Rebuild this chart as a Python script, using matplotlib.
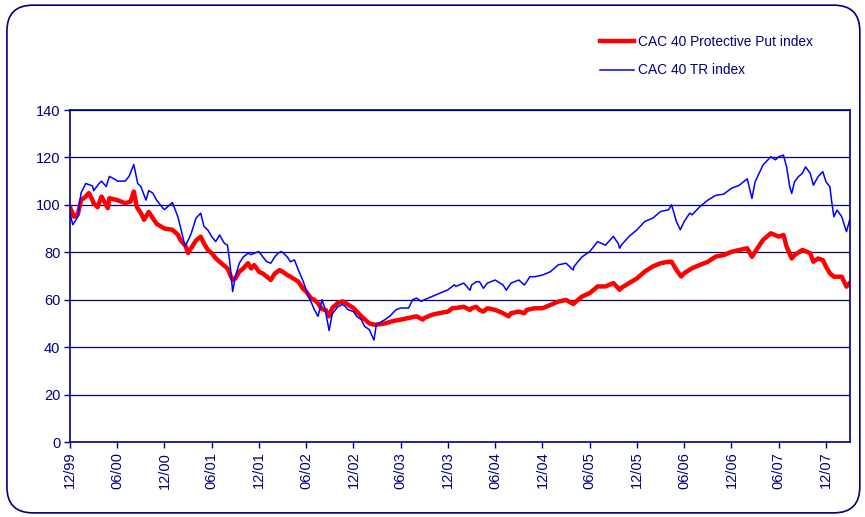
import matplotlib
matplotlib.use("Agg")
import matplotlib.pyplot as plt
from matplotlib.patches import FancyBboxPatch

plt.rcParams['font.family'] = ['Liberation Sans', 'DejaVu Sans']

navy = '#000080'

# months since 12/99
tr_months = [0, 0.35, 1, 1.4, 2, 2.85, 3, 3.7, 4, 4.6, 5, 5.85, 6, 7, 7.5, 8.1, 8.6, 9, 9.65, 10,
             10.5, 11, 11.8, 12, 13, 13.7, 14, 14.6, 15, 15.4, 16, 16.6, 17, 17.5, 18, 18.5, 19,
             19.6, 20, 20.25, 20.45, 20.65, 21, 21.5, 22, 22.6, 23, 23.4, 24, 24.5, 25, 25.5, 26,
             26.4, 26.8, 27, 27.6, 28, 28.5, 29, 29.55, 30, 30.5, 31, 31.5, 32, 32.4, 32.9, 33.3,
             34, 34.6, 35, 35.3, 36, 36.4, 37, 37.4, 38, 38.6, 38.9, 40, 40.6, 41, 41.4, 42, 43,
             43.5, 44, 44.6, 45, 46, 47, 48, 48.8, 49, 50, 50.8, 51, 51.6, 52, 52.5, 53, 54, 55,
             55.4, 56, 57, 57.7, 58, 58.4, 59, 60, 61, 62, 63, 63.9, 64, 65, 66, 67, 68, 69, 69.6,
             69.8, 70, 71, 72, 73, 74, 75, 76, 76.4, 77, 77.5, 78, 78.7, 79, 80, 81, 82, 83, 84,
             85, 86, 86.6, 87, 88, 89, 89.6, 90, 90.6, 91, 91.4, 91.65, 92, 92.5, 93, 93.4, 94,
             94.4, 95, 95.6, 96, 96.5, 96.7, 97, 97.4, 98, 98.6, 99]
tr_index = [96.5, 91.6, 95, 105, 109, 108, 106, 109, 110, 107.7, 112, 110.5, 110, 110, 112, 117,
            109, 107.7, 102, 106, 105, 102, 98.6, 98, 101, 95, 91, 82.5, 85, 88, 94.4, 96.5, 91,
            89.4, 86.6, 84.5, 87.3, 83.8, 83, 76.8, 71, 63.4, 69.7, 75.4, 78, 79.6, 79, 79.6,
            80.3, 78, 76, 75.4, 78, 79.6, 80.3, 80, 78, 76, 76.8, 72.5, 68.3, 64, 60, 56, 53, 60,
            56, 47, 54, 57, 58, 57, 55.8, 55, 53, 51.6, 48.8, 47.4, 43, 49.5, 51.6, 53, 54.4,
            55.8, 56.5, 56.5, 60, 60.7, 59.3, 60, 61.4, 62.8, 64.2, 66.3, 65.6, 67, 64, 66.2,
            67.6, 67.6, 64.8, 67, 68.3, 66.2, 64, 67, 68.3, 66.2, 67.6, 69.7, 69.7, 70.4, 71.8,
            74.7, 75.4, 72.5, 74, 78, 80.3, 84.5, 83, 86.7, 83.8, 81.7, 83, 86.7, 89.5, 93, 94.4,
            97.2, 97.9, 100, 93, 89.5, 93, 96.5, 95.8, 99.3, 102, 104, 104.5, 107, 108.3, 111,
            102.7, 109.7, 116.8, 120.3, 119, 120.3, 121, 116, 107.6, 104.8, 109.7, 111.9, 113.3,
            116, 113.3, 108.3, 111.9, 114, 109.7, 107.6, 102, 95, 97.8, 95, 88.7, 93.6]

pp_months = [0, 0.5, 1, 1.4, 2, 2.4, 2.85, 3, 3.5, 4, 4.8, 5, 6, 7, 7.7, 8.1, 8.5, 9, 9.4, 10,
             11, 12, 13, 13.7, 14, 14.7, 15, 16, 16.6, 17, 17.5, 18, 18.5, 19, 20, 20.45, 20.65,
             21, 21.5, 22, 22.6, 23, 23.4, 24, 24.5, 25, 25.5, 26, 26.6, 27, 27.6, 28, 29, 29.55,
             30, 30.6, 31, 31.5, 32, 32.5, 32.9, 33.3, 34, 34.6, 35, 36, 37, 38, 38.6, 39, 40, 41,
             42, 43, 44, 44.8, 45, 46, 47, 48, 48.6, 49, 50, 50.8, 51, 51.6, 52, 52.5, 53, 54, 55,
             55.7, 56, 57, 57.7, 58, 59, 60, 61, 62, 63, 63.9, 64, 65, 66, 67, 68, 69, 69.8, 70,
             71, 72, 73, 74, 75, 76, 76.4, 77, 77.6, 78, 79, 80, 81, 82, 83, 84, 85, 86, 86.6, 87,
             88, 89, 90, 90.6, 91, 91.65, 92, 93, 94, 94.4, 95, 95.6, 96, 96.5, 97, 98, 98.6, 99]
pp_index = [99, 95, 96, 102, 103.5, 105, 102, 100.7, 99, 103.5, 98.6, 102.8, 102, 100.7, 101.4,
            105.6, 99, 96.5, 93.7, 97, 92, 90, 89.5, 87.4, 85.3, 82.5, 79.7, 85, 86.6, 83.8, 81,
            79.6, 77.5, 76, 73.2, 69.7, 68.3, 69, 71.8, 73.2, 75.4, 73.2, 74.6, 71.8, 71, 69.7,
            68.3, 71, 72.5, 71.8, 70.4, 69.7, 67.6, 64.8, 63.4, 60.6, 60, 58.5, 56, 55.6, 53,
            56.5, 58.6, 59.3, 58.6, 56.5, 53, 50, 49.5, 49.5, 50, 51, 51.6, 52.3, 53, 51.6, 52.3,
            53.7, 54.4, 55, 56.5, 56.5, 57, 55.7, 56.4, 57, 55.7, 55, 56.4, 55.7, 54.3, 53, 54.3,
            55, 54.3, 55.7, 56.4, 56.4, 57.8, 59.2, 59.9, 58.2, 58.5, 61.3, 62.8, 65.6, 65.6, 67,
            64.2, 65, 67, 69, 71.9, 74, 75.4, 76, 76, 72.6, 69.8, 71.2, 73.3, 74.7, 76, 78.2,
            78.8, 80.2, 81, 81.7, 78.1, 80.2, 85.2, 88, 86.6, 87.3, 82.4, 77.4, 78.8, 81, 79.6,
            76, 77.4, 76.7, 74, 71.1, 69.7, 69.7, 65.5, 67]

tick_months = list(range(0, 97, 6))
tick_labels = ['12/99', '06/00', '12/00', '06/01', '12/01', '06/02', '12/02', '06/03', '12/03',
               '06/04', '12/04', '06/05', '12/05', '06/06', '12/06', '06/07', '12/07']

fig = plt.figure(figsize=(8.65, 5.17), dpi=100)
ax = fig.add_axes([70/865, 75/517, 780/865, 332/517])

ax.plot(pp_months, pp_index, color='#FF0000', lw=3.2, label='CAC 40 Protective Put index')
ax.plot(tr_months, tr_index, color='#0000FF', lw=1.1, label='CAC 40 TR index')

ax.set_xlim(0, 99.05)
ax.set_ylim(0, 140)
ax.set_yticks(range(0, 141, 20))
ax.set_xticks(tick_months)
ax.set_xticklabels(tick_labels, rotation=90)
ax.yaxis.grid(True, color=navy, lw=0.9)
ax.set_axisbelow(True)
for s in ax.spines.values():
    s.set_color(navy)
    s.set_linewidth(1.2)
ax.tick_params(colors=navy, labelcolor=navy, labelsize=10.5, length=4, width=1, pad=3)

fig.legend(loc='upper left', bbox_to_anchor=(600/865, 1 - 35/517), frameon=False,
           fontsize=9.9, labelcolor=navy, handlelength=2.5, handletextpad=0.3,
           labelspacing=1.05, borderpad=0, borderaxespad=0)

border = FancyBboxPatch((0.008, 0.008), 0.986, 0.982, boxstyle='round,pad=0,rounding_size=0.03',
                        transform=fig.transFigure, fill=False, ec=navy, lw=1.2,
                        mutation_aspect=865/517)
fig.add_artist(border)

fig.savefig('out.png', dpi=100)
